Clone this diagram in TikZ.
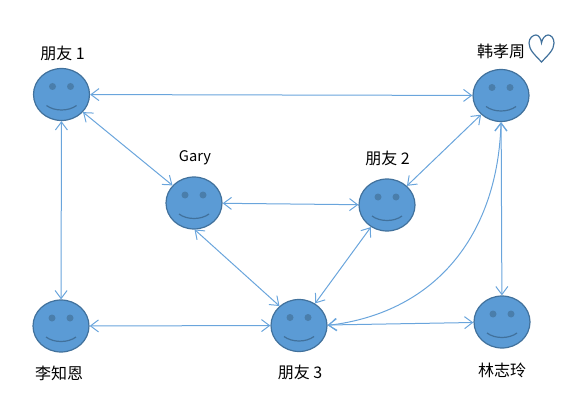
\documentclass[tikz,border=0pt]{standalone}
\usepackage{fontspec}
\setmainfont{Noto Sans CJK SC}
\usetikzlibrary{arrows.meta}
\usetikzlibrary{shapes.geometric}
\definecolor{facefill}{HTML}{5B9BD5}
\definecolor{faceline}{HTML}{41719C}
\definecolor{faceeye}{HTML}{4A7EAB}
\definecolor{linkblue}{HTML}{6AA5DC}
\tikzset{
	smiley/.style={ellipse,draw=faceline,fill=facefill,line width=0.9pt,minimum width=42pt,minimum height=39pt,inner sep=0pt,outer sep=0pt},
	link/.style={linkblue,line width=0.75pt,{Straight Barb[length=6pt,width=9pt]}-{Straight Barb[length=6pt,width=9pt]},shorten <=0.5pt,shorten >=0.5pt},
	nametag/.style={font=\fontsize{12pt}{14pt}\selectfont,inner sep=0pt,text=black}
}
\begin{document}
\begin{tikzpicture}[x=0.75pt,y=-0.75pt]
	\useasboundingbox (0,0) rectangle (580,413);
	% faces
	\node[smiley] (friendA) at (61.5,94.5) {};
	\node[smiley] (gary) at (194,203) {};
	\node[smiley] (friendB) at (387,205) {};
	\node[smiley] (han) at (501,95.5) {};
	\node[smiley] (lee) at (61,326) {};
	\node[smiley] (friendC) at (299,325.5) {};
	\node[smiley] (lin) at (502,322) {};
	\foreach \n in {friendA,gary,friendB,han,lee,friendC,lin}{
		\begin{scope}[shift={(\n)}]
			\fill[faceeye] (-9,-8) circle (3.5);
			\fill[faceeye] (9,-8) circle (3.5);
			\draw[faceline,line width=0.9pt] (-15,11) .. controls (-7,17) and (7,17) .. (15,11);
		\end{scope}
	}
	% labels
	\node[nametag] (labelA) at (62.5,53) {朋友 1};
	\node[nametag,font=\fontsize{11pt}{13pt}\selectfont] (labelGary) at (195,158) {Gary};
	\node[nametag] (labelB) at (387.5,158) {朋友 2};
	\node[nametag] (labelHan) at (501,51) {韩孝周};
	\node[nametag] (labelLee) at (59,373) {李知恩};
	\node[nametag] (labelC) at (300,372) {朋友 3};
	\node[nametag] (labelLin) at (502,370) {林志玲};
	% heart
	\draw[faceline,line width=0.9pt] (541.5,62) .. controls (535,55) and (529,50) .. (529,43) .. controls (529,38) and (533,35) .. (536,35) .. controls (539,35) and (541,39) .. (541.5,43) .. controls (542,39) and (545,35) .. (548,35) .. controls (551,35) and (554,38) .. (554,43) .. controls (554,50) and (548,55) .. (541.5,62) -- cycle;
	% links
	\draw[link] (friendA) -- (han);
	\draw[link] (friendA) -- (gary);
	\draw[link] (friendA) -- (lee);
	\draw[link] (gary) -- (friendB);
	\draw[link] (gary.south) -- (friendC.135);
	\draw[link] (friendB) -- (han);
	\draw[link] (friendB) -- (friendC);
	\draw[link] (lee) -- (friendC);
	\draw[link] (friendC) -- (lin);
	\draw[link] (han) -- (lin);
	\draw[link] (friendC.east) .. controls (440,312) and (498,230) .. (han.south);
\end{tikzpicture}
\end{document}
